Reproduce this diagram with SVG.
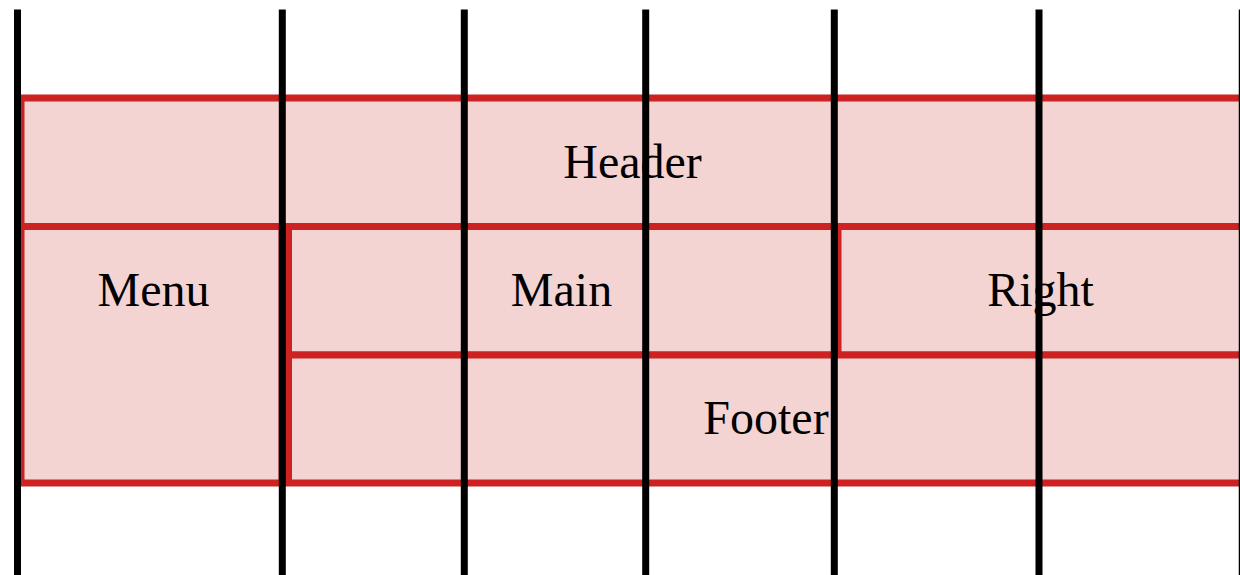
<svg xmlns="http://www.w3.org/2000/svg" width="1240" height="575" viewBox="0 0 1240 575">
<style>
.box{fill:#f4d3d3;stroke:#cc2222;stroke-width:7}
.lbl{font-family:"Liberation Serif","Times New Roman",serif;font-size:48px;fill:#000;text-anchor:middle}
.gl{stroke:#000;stroke-width:7}
</style>
<rect width="1240" height="575" fill="#fff"/>
<g id="header"><rect class="box" x="21" y="98" width="1226" height="128.5"/><text class="lbl" x="632.5" y="178">Header</text></g>
<g id="menu"><rect class="box" x="21" y="226.5" width="261" height="256.5"/><text class="lbl" x="153.5" y="306">Menu</text></g>
<g id="main"><rect class="box" x="288.5" y="226.5" width="546" height="128.5"/><text class="lbl" x="561.5" y="306">Main</text></g>
<g id="right"><rect class="box" x="838" y="226.5" width="410" height="128.5"/><text class="lbl" x="1040.5" y="306">Right</text></g>
<g id="footer"><rect class="box" x="288.5" y="355" width="960" height="128"/><text class="lbl" x="766" y="434">Footer</text></g>
<g id="connectors">
<line class="gl" x1="17.5" y1="9.5" x2="17.5" y2="575"/>
<line class="gl" x1="282.3" y1="9.5" x2="282.3" y2="575"/>
<line class="gl" x1="464.3" y1="9.5" x2="464.3" y2="575"/>
<line class="gl" x1="645.7" y1="9.5" x2="645.7" y2="575"/>
<line class="gl" x1="834.3" y1="9.5" x2="834.3" y2="575"/>
<line class="gl" x1="1039" y1="9.5" x2="1039" y2="575"/>
<line x1="1239.5" y1="9.5" x2="1239.5" y2="575" stroke="#000" stroke-width="1.5"/>
</g>
</svg>
